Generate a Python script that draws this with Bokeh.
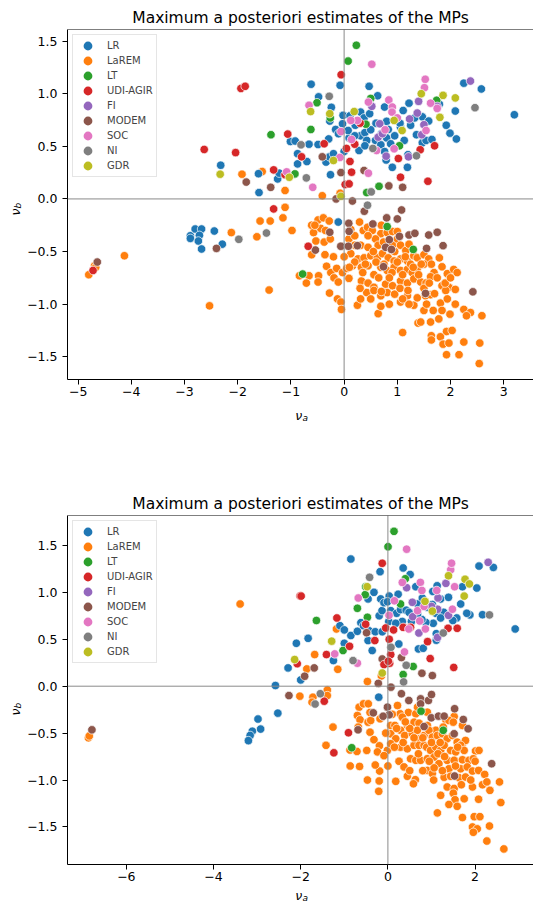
import math
from bokeh.plotting import figure
from bokeh.models import (Range1d, FixedTicker, CustomJSTickFormatter, Span,
                          Legend, LegendItem, ColumnDataSource)
from bokeh.core.properties import value
from bokeh.layouts import column, row
from bokeh.embed import file_html
from bokeh.resources import INLINE

PARTIES = ["LR", "LaREM", "LT", "UDI-AGIR", "FI", "MODEM", "SOC", "NI", "GDR"]
COLORS = ["#1f77b4", "#ff7f0e", "#2ca02c", "#d62728", "#9467bd",
          "#8c564b", "#e377c2", "#7f7f7f", "#bcbd22"]
DRAW_ORDER = ["LaREM", "LR", "MODEM", "LT", "UDI-AGIR", "FI", "SOC", "NI", "GDR"]

TITLE = "Maximum a posteriori estimates of the MPs"
TOP_X_TICKS = [-5, -4, -3, -2, -1, 0, 1, 2, 3]
BOTTOM_X_TICKS = [-6, -4, -2, 0, 2]
Y_TICKS = [-1.5, -1.0, -0.5, 0.0, 0.5, 1.0, 1.5]

# ---------------- top panel ----------------
TOP_LR = [(-2.32,0.32),(-1.60,0.06),(-1.61,0.24),(-1.25,0.19),(-1.22,0.245),(-1.01,0.546),(-0.92,0.55),
    (-0.66,0.52),(-0.49,0.517),(-0.875,0.43),(-0.875,0.333),(-0.70,0.355),(-0.34,0.35),(-0.275,0.40),
    (-0.20,0.43),(-0.256,0.23),(0.0,0.45),(-0.62,1.09),(-0.075,1.08),(-0.48,0.97),(-0.24,0.87),(-0.27,0.74),
    (-0.16,0.66),(-0.106,0.62),(-0.03,0.714),(-0.02,0.794),(-0.29,0.57),(0.11,0.79),(0.21,0.70),(0.31,0.825),
    (0.375,0.77),(0.47,1.07),(0.63,0.98),(0.48,0.81),(0.31,0.60),(0.39,0.63),(0.425,0.556),(0.5,0.657),
    (0.094,0.58),(0.075,0.65),(0.28,0.46),(0.39,0.505),(0.59,0.556),(0.69,0.514),(0.76,0.873),(0.8,0.737),
    (0.83,0.66),(0.8,0.58),(0.875,0.524),(0.76,0.45),(0.79,0.37),(0.906,0.30),(1.06,0.68),(1.13,0.556),
    (1.11,0.84),(1.22,0.91),(1.05,0.72),(1.2,0.42),(1.19,0.30),(1.36,0.61),(1.47,0.78),(1.325,0.77),
    (1.59,0.74),(1.47,0.533),(1.54,0.556),(1.65,0.565),(1.79,0.9),(1.92,0.70),(1.99,0.625),(2.11,0.57),
    (2.09,0.835),(2.25,1.10),(2.58,1.045),(3.2,0.80),(0.6,0.72),(0.95,0.6),(1.25,0.7),(0.2,0.6),(0.7,0.62),
    (-2.89,-0.35),(-2.80,-0.286),(-2.68,-0.286),(-2.89,-0.375),(-2.72,-0.346),(-2.74,-0.40),(-2.68,-0.476),
    (-2.44,-0.305),(-2.29,-0.43),(-0.11,-0.22)]
TOP_LAREM = [(-4.80,-0.72),(-4.69,-0.635),(-4.67,-0.65),(-4.13,-0.54),(-2.53,-1.016),(-2.12,-0.32),(-1.64,-0.36),
    (-1.58,-0.21),(-1.41,-0.866),(-1.92,0.235),(-1.54,0.26),(-1.11,0.08),(-0.41,0.03),(-0.075,0.054),
    (-1.11,-0.08),(-1.15,-0.18),(-1.39,-0.21),(-0.49,-0.20),(-0.39,-0.18),(-0.28,-0.21),(0.29,-0.22),(-0.61,-0.25),
    (-0.98,-0.30),(-0.575,-0.32),(-0.44,-0.28),(0.125,-0.29),(0.36,-0.30),(0.44,-0.27),(0.53,-0.30),(0.69,-0.33),
    (0.81,-0.32),(0.91,-0.31),(1.0,-0.31),
    (-0.53,-0.40),(-0.375,-0.41),(-0.26,-0.38),(0.09,-0.38),(0.2,-0.44),(0.31,-0.44),(0.45,-0.46),(0.59,-0.38),
    (0.64,-0.44),(0.74,-0.41),(0.91,-0.44),(1.0,-0.38),(1.06,-0.44),(1.16,-0.49),(1.22,-0.43),
    (-0.61,-0.53),(-0.36,-0.53),(0.125,-0.52),(0.26,-0.57),(0.375,-0.56),(0.5,-0.54),(0.625,-0.56),(0.72,-0.52),
    (0.83,-0.56),(0.94,-0.59),(1.06,-0.57),(1.19,-0.59),(1.31,-0.54),(1.375,-0.56),(1.5,-0.53),(1.59,-0.57),(1.79,-0.56),
    (-0.33,-0.64),(-0.25,-0.70),(-0.14,-0.66),(-0.03,-0.70),(0.05,-0.66),(0.16,-0.635),(0.325,-0.65),(0.45,-0.635),
    (0.56,-0.72),(0.69,-0.65),(0.81,-0.68),(0.94,-0.65),(1.06,-0.68),(1.19,-0.67),(1.28,-0.70),(1.375,-0.66),
    (1.5,-0.62),(1.64,-0.62),(1.69,-0.70),(1.84,-0.645),(1.94,-0.71),(2.06,-0.67),(2.125,-0.70),
    (-0.84,-0.73),(-0.66,-0.73),(-0.48,-0.73),(-0.71,-0.80),(-0.49,-0.79),(-0.19,-0.75),(-0.11,-0.79),(0.09,-0.755),
    (0.325,-0.78),(0.45,-0.80),(0.56,-0.84),(0.78,-0.81),(0.91,-0.825),(1.06,-0.78),(1.19,-0.80),(1.31,-0.76),
    (1.44,-0.79),(1.54,-0.80),(1.625,-0.74),(1.84,-0.825),(1.97,-0.84),(2.09,-0.86),(1.91,-0.87),
    (-0.275,-0.895),(-0.125,-0.95),(-0.06,-0.98),(0.25,-1.01),(0.31,-0.95),(0.425,-0.89),(0.56,-0.87),(0.69,-0.92),
    (0.81,-0.89),(0.95,-0.905),(1.06,-0.98),(1.19,-0.92),(1.31,-1.01),(1.375,-0.94),(1.53,-0.92),(1.625,-0.91),
    (1.81,-0.99),(1.94,-0.95),(2.09,-1.0),(2.25,-1.05),
    (-0.05,-1.05),(0.64,-1.09),(0.69,-1.02),(1.22,-1.0),(1.5,-1.06),(1.675,-1.06),(1.84,-1.06),(1.99,-1.095),
    (2.375,-1.08),(2.3,-1.11),(2.59,-1.11),
    (1.1,-1.27),(1.39,-1.18),(1.44,-1.17),(1.625,-1.17),(1.78,-1.14),(1.925,-1.26),(2.03,-1.25),
    (1.64,-1.30),(1.64,-1.34),(1.81,-1.31),(1.86,-1.38),(1.97,-1.37),(2.25,-1.36),(2.55,-1.37),(1.925,-1.48),
    (2.16,-1.48),(2.54,-1.565),
    (0.2,-0.6),(0.4,-0.62),(0.6,-0.6),(0.75,-0.62),(0.9,-0.7),(1.0,-0.6),(1.1,-0.72),(1.25,-0.62),(1.4,-0.72),
    (1.5,-0.85),(0.65,-0.75),(0.85,-0.75),(1.05,-0.85),(1.2,-0.87),(0.35,-0.7),(0.55,-0.5),(0.95,-0.5),(1.15,-0.55),
    (0.7,-0.88),(1.3,-0.65),(1.6,-0.8),(1.7,-0.9),(0.3,-0.85),(0.1,-0.65),(0.0,-0.55),(-0.05,-0.45),(-0.2,-0.55),
    (-0.35,-0.3),(-0.55,-0.25),(0.45,-0.35),(0.7,-0.25),(0.2,-0.35),(1.45,-0.62),(1.75,-0.75),(1.9,-0.8),(2.0,-0.75),
    (1.55,-1.0),(1.1,-0.95),(0.85,-1.0),(0.5,-0.95)]
TOP_LT = [(-1.375,0.61),(-0.925,0.238),(-0.51,0.914),(-0.625,0.66),(-0.26,0.77),(0.075,1.31),(0.23,1.46),
    (0.41,0.71),(0.5,0.955),(1.04,0.505),(1.74,0.937),(0.425,0.06),(0.656,0.12),(-0.78,-0.714),(0.81,-0.263),(1.3,-0.48)]
TOP_UDI = [(-2.63,0.47),(-2.04,0.44),(-1.94,1.05),(-1.86,1.07),(-1.325,0.276),(-1.11,0.23),(-1.06,0.616),
    (-0.80,0.40),(-0.375,0.524),(-0.056,1.18),(0.044,0.48),(0.2,0.52),(0.3,0.72),(1.02,0.384),(1.43,0.467),
    (1.7,0.505),(1.575,0.168),(1.06,0.206),(0.11,0.356),(0.14,0.254),(0.02,0.137),(0.094,0.143),(-4.72,-0.68),
    (-1.325,-0.095),(-0.675,-0.45)]
TOP_FI = [(0.52,0.88),(0.67,0.714),(0.64,0.587),(0.79,0.406),(1.23,0.76),(1.21,0.40),(1.46,0.61),(1.5,0.705),
    (1.375,0.816),(1.4,0.927),(1.75,0.88),(2.375,1.12),(0.72,0.62)]
TOP_MODEM = [(-1.84,0.16),(-1.38,0.11),(-0.41,0.40),(-0.06,0.25),(0.375,0.27),(0.84,0.124),(1.1,0.11),
    (-0.15,0.0),(0.156,-0.02),(-4.64,-0.60),(-2.40,-0.47),(-0.27,-0.317),(-0.54,-0.486),(0.0875,-0.232),
    (0.094,-0.308),(-0.0625,-0.45),(0.08,-0.45),(0.54,-0.238),(0.38,-0.117),(0.8,-0.18),(1.0,-0.19),(1.08,-0.105),
    (0.85,-0.387),(0.78,-0.46),(0.89,-0.48),(1.04,-0.356),(1.22,-0.343),(1.33,-0.327),(1.59,-0.343),(1.75,-0.317),
    (1.86,-0.444),(1.55,-0.47),(2.42,-0.883),(1.53,-0.898),(0.74,-0.644),(0.25,-0.444)]
TOP_SOC = [(-1.08,0.257),(-0.59,0.11),(-0.66,0.89),(-0.08,0.394),(-0.06,0.64),(0.52,1.28),(0.456,0.92),
    (0.25,0.746),(0.14,0.565),(0.61,0.46),(0.84,0.94),(0.906,0.873),(0.9,0.825),(0.77,0.657),(0.94,0.476),
    (1.54,0.65),(1.625,0.91),(1.525,1.137),(1.51,1.057),(0.456,0.244),(0.125,0.746),(1.0,0.77),(1.75,0.86)]
TOP_NI = [(-0.71,0.20),(-0.81,0.514),(-0.28,0.975),(0.54,0.48),(1.36,0.41),(2.46,0.867),(0.51,0.067),
    (0.44,-0.06),(-1.98,-0.384),(-1.46,-0.324)]
TOP_GDR = [(-2.33,0.235),(-1.03,0.206),(-0.63,0.83),(-0.2,0.365),(-0.27,0.81),(0.19,0.83),(0.94,0.746),
    (1.09,0.65),(1.45,1.0),(1.86,0.984),(1.8,0.775),(2.09,0.96),(-0.06,0.025)]

# ---------------- bottom panel ----------------
BOT_LR = [(-2.58,0.007),(-2.29,0.195),(-2.10,0.457),(-1.83,0.51),(-2.0,0.067),(-1.25,0.273),(-1.1,0.645),
    (-1.0,0.60),(-0.85,0.54),(-1.0,0.457),(-0.70,0.585),(-0.62,0.677),(-0.85,1.355),(-0.455,0.93),(-0.32,1.0),
    (-0.56,0.645),(-0.43,0.59),(-0.29,0.58),(-0.455,0.486),(-0.36,0.38),(-0.13,0.58),(-0.20,0.75),(-0.135,0.805),
    (-0.165,0.93),(-0.09,0.89),(0.03,0.96),(-0.01,0.90),(0.02,0.69),(0.25,0.45),(0.70,0.397),(0.81,0.404),
    (1.11,0.49),(1.11,0.56),(1.04,0.67),(0.35,1.26),(0.51,1.19),(-0.18,1.22),(0.64,1.06),(0.235,0.98),(0.065,0.805),
    (0.2,0.777),(0.29,0.816),(0.42,0.81),(0.68,0.876),(0.79,0.94),(0.91,0.84),(0.97,0.858),(1.03,1.01),(1.13,1.07),
    (1.21,0.93),(1.39,0.947),(1.71,1.06),(1.67,0.876),(2.04,1.046),(2.09,1.28),(2.42,1.266),(2.17,0.762),(2.92,0.61),
    (1.88,0.76),(1.81,0.777),(1.58,0.727),(1.28,0.787),(1.49,0.70),(1.02,0.87),(0.87,0.68),(0.78,0.71),(0.68,0.77),
    (0.54,0.69),(0.33,0.69),(0.18,0.67),(1.10,0.777),(1.21,0.727),(0.485,0.787),
    (-0.21,-0.117),(-2.525,-0.287),(-2.98,-0.35),(-2.92,-0.457),(-3.11,-0.48),(-3.16,-0.525),(-3.20,-0.58)]
BOT_LAREM = [(-6.87,-0.55),(-6.85,-0.53),(-3.39,0.876),(-1.86,0.184),(-1.68,0.337),(-1.15,0.18),(-1.18,0.61),
    (-0.15,0.11),(-0.47,0.05),(-1.39,-0.04),(-2.02,-0.106),(-1.72,-0.117),(-1.74,-0.17),(-1.39,-0.10),(-1.26,-0.436),
    (-1.42,-0.63),(-0.87,-0.68),(-0.71,-0.695),(-0.485,-0.684),(-0.865,-0.85),(-0.65,-0.855),(-0.47,-1.0),(-0.2,-1.01),
    (-0.19,-0.904),(-0.29,-0.84),(-0.21,-1.12),
    (-0.66,-0.223),(-0.56,-0.188),(-0.45,-0.188),(-0.41,-0.28),(0.22,-0.206),(0.47,-0.28),(0.64,-0.294),(0.68,-0.223),
    (0.905,-0.277),(1.52,-0.323),(1.33,-0.358),
    (-0.70,-0.312),(-0.64,-0.358),(-0.455,-0.383),(-0.395,-0.365),(-0.68,-0.436),(-0.18,-0.348),(0.064,-0.418),
    (0.16,-0.418),(0.28,-0.294),(0.33,-0.33),(0.446,-0.418),(0.6,-0.383),(0.714,-0.394),(0.905,-0.418),(1.10,-0.47),
    (1.27,-0.436),(1.40,-0.365),(1.50,-0.383),(1.71,-0.418),
    (-0.41,-0.49),(-0.32,-0.57),(0.064,-0.507),(0.18,-0.56),(0.29,-0.47),(0.385,-0.525),(0.56,-0.507),(0.676,-0.47),
    (0.714,-0.56),(0.83,-0.525),(0.94,-0.47),(1.02,-0.543),(1.135,-0.525),(1.25,-0.507),(1.36,-0.56),(1.48,-0.525),
    (1.59,-0.596),(1.71,-0.613),(1.78,-0.578),
    (-0.195,-0.635),(-0.24,-0.70),(-0.012,-0.684),(-0.09,-0.74),(0.064,-0.613),(0.29,-0.65),(0.446,-0.667),(0.60,-0.63),
    (0.714,-0.63),(0.83,-0.63),(0.89,-0.65),(0.98,-0.684),(1.10,-0.65),(1.21,-0.684),(1.29,-0.63),(1.44,-0.684),
    (1.555,-0.70),(1.67,-0.63),(1.75,-0.684),(2.01,-0.69),(2.09,-0.684),
    (0.255,-0.80),(0.37,-0.86),(0.52,-0.773),(0.64,-0.79),(0.75,-0.79),(0.905,-0.773),(1.06,-0.755),(1.17,-0.826),
    (1.36,-0.79),(1.52,-0.79),(1.71,-0.784),(1.86,-0.79),(1.96,-0.773),(1.40,-0.88),(1.67,-0.88),(1.82,-0.86),
    (0.446,-0.96),(0.63,-0.996),(0.905,-0.897),(1.02,-0.93),(1.06,-0.87),(1.29,-0.97),(1.44,-0.96),(1.63,-0.975),
    (1.78,-0.968),(1.94,-0.904),(2.08,-0.897),(2.22,-0.94),(0.585,-1.04),
    (0.18,-1.014),(1.36,-1.074),(1.52,-1.09),(1.685,-1.05),(1.94,-1.074),(2.17,-1.05),(2.27,-1.02),(2.34,-1.11),
    (2.56,-1.02),(1.50,-1.14),
    (1.21,-1.163),(1.54,-1.21),(1.75,-1.20),(2.08,-1.205),(2.59,-1.24),(1.40,-1.26),(1.59,-1.28),(1.135,-1.35),
    (1.71,-1.40),(1.98,-1.39),(2.11,-1.39),
    (1.94,-1.50),(2.05,-1.52),(1.96,-1.557),(2.33,-1.49),(2.27,-1.65),(2.66,-1.734),
    (0.2,-0.45),(0.5,-0.45),(0.8,-0.55),(1.0,-0.6),(1.2,-0.6),(0.6,-0.55),(0.35,-0.6),(0.15,-0.65),(0.7,-0.72),
    (0.95,-0.8),(1.15,-0.72),(1.3,-0.75),(1.55,-0.85),(1.25,-0.9),(0.8,-0.9),(0.1,-0.3),(0.4,-0.38),(-0.05,-0.5),
    (0.0,-0.85),(1.9,-1.0),(2.0,-0.8),(1.05,-1.0),(1.6,-0.65),(0.5,-0.9)]
BOT_LT = [(-1.64,0.70),(-1.03,0.38),(-0.70,0.83),(-0.51,1.06),(-0.52,0.975),(-0.47,0.734),(0.003,1.486),
    (0.14,1.65),(0.40,1.145),(0.29,0.876),(0.58,0.21),(0.35,0.124),(-0.83,-0.656),(0.76,-0.266),(1.27,-0.47)]
BOT_UDI = [(-2.015,0.96),(-1.99,0.96),(-2.08,0.24),(-1.41,0.337),(-1.17,0.727),(-0.88,0.425),(-0.51,0.66),
    (-0.30,0.486),(-0.13,1.31),(-0.05,0.62),(0.13,0.60),(0.03,0.5),(0.065,0.337),(0.04,0.245),(-0.09,0.23),
    (0.01,0.266),(0.97,0.294),(1.51,0.20),(0.91,0.475),(1.38,0.617),(1.59,0.617),(0.52,0.627),(0.35,0.627),
    (-1.46,-0.16),(-0.905,-0.496),(-1.24,-0.71)]
BOT_FI = [(0.71,0.567),(0.43,1.05),(0.56,0.894),(1.15,0.94),(1.33,1.096),(2.30,1.32),(1.39,0.755),(0.57,0.74),
    (1.14,0.82),(1.14,0.52),(1.0,0.85)]
BOT_MODEM = [(-1.91,0.106),(-1.69,0.195),(-0.49,0.57),(-0.13,0.29),(-0.22,0.03),(0.07,-0.01),(0.31,0.305),
    (0.78,0.138),(1.02,0.113),(-6.79,-0.465),(-2.27,-0.10),(-0.335,-0.284),(-0.685,-0.465),(-0.01,-0.223),
    (0.03,-0.305),(-0.11,-0.32),(0.31,-0.08),(0.48,-0.152),(0.75,-0.135),(0.75,-0.188),(0.93,-0.152),(1.0,-0.089),
    (0.995,-0.337),(1.16,-0.319),(1.29,-0.319),(0.83,-0.43),(1.53,-0.24),(1.73,-0.355),(1.52,-0.507),(1.84,-0.454),
    (2.38,-0.826),(1.53,-0.957)]
BOT_SOC = [(-1.22,0.344),(-0.70,0.245),(-0.68,0.94),(0.026,0.755),(0.38,0.365),(0.43,1.46),(0.33,1.106),
    (0.745,1.106),(0.78,1.02),(0.15,0.91),(1.44,1.24),(1.46,1.31),(1.53,1.06),(1.48,0.82),(0.68,0.805),(0.83,0.85),
    (0.86,0.61),(0.48,0.61),(1.12,1.02),(0.73,0.695)]
BOT_NI = [(-0.80,0.273),(-0.42,1.16),(0.07,0.415),(0.42,0.223),(0.36,0.046),(1.27,0.567),(2.33,0.76),
    (-1.55,-0.08),(-1.67,-0.19)]
BOT_GDR = [(-2.14,0.284),(-1.29,0.48),(-0.13,0.14),(0.85,0.904),(1.39,1.177),(1.77,1.14),(1.87,1.09),
    (1.75,0.96),(-0.475,1.06),(1.02,0.80)]

TOP_DATA = {"LR": TOP_LR, "LaREM": TOP_LAREM, "LT": TOP_LT, "UDI-AGIR": TOP_UDI, "FI": TOP_FI,
            "MODEM": TOP_MODEM, "SOC": TOP_SOC, "NI": TOP_NI, "GDR": TOP_GDR}
BOT_DATA = {"LR": BOT_LR, "LaREM": BOT_LAREM, "LT": BOT_LT, "UDI-AGIR": BOT_UDI, "FI": BOT_FI,
            "MODEM": BOT_MODEM, "SOC": BOT_SOC, "NI": BOT_NI, "GDR": BOT_GDR}

FONT = "DejaVu Sans"
MINUS = "\u2212"
YSTRIP_W = 24


def make_panel(data, xr, yr, xticks, height, b_top, b_bottom):
    p = figure(width=533 - YSTRIP_W, height=height, x_range=Range1d(*xr), y_range=Range1d(*yr),
               output_backend="svg", toolbar_location=None, title=TITLE,
               min_border_left=67 - YSTRIP_W, min_border_right=0, min_border_top=b_top,
               min_border_bottom=b_bottom)
    p.title.text_font = FONT
    p.title.text_font_size = "15.5px"
    p.title.text_font_style = "normal"
    p.title.align = "center"
    p.title.standoff = 5
    p.title.text_color = "black"
    p.grid.visible = False
    p.outline_line_color = None
    p.background_fill_color = "white"

    for ax in (p.xaxis[0], p.yaxis[0]):
        ax.axis_line_color = "black"
        ax.axis_line_width = 1
        ax.major_tick_line_color = "black"
        ax.major_tick_out = 5
        ax.major_tick_in = 0
        ax.minor_tick_out = 0
        ax.minor_tick_in = 0
        ax.major_label_text_font = FONT
        ax.major_label_text_font_size = "12.5px"
        ax.major_label_text_color = "black"
    p.xaxis.ticker = FixedTicker(ticks=xticks)
    p.yaxis.ticker = FixedTicker(ticks=Y_TICKS)
    p.xaxis.major_label_standoff = 2
    p.yaxis.major_label_standoff = 5
    p.xaxis.formatter = CustomJSTickFormatter(
        code="return (tick < 0 ? '" + MINUS + "' : '') + Math.abs(tick).toFixed(0);")
    p.yaxis.formatter = CustomJSTickFormatter(
        code="return (tick < 0 ? '" + MINUS + "' : '') + Math.abs(tick).toFixed(1);")

    # legend swatch renderers: one real point per party, drawn first (hidden under the
    # full-size markers) with a thick outline so the legend swatch reads ~9 px wide
    items = []
    for name, col in zip(PARTIES, COLORS):
        x0, y0 = data[name][0]
        r = p.scatter(x=[x0], y=[y0], marker="circle", size=0.5, fill_color=col,
                      line_color=col, line_width=2.8)
        items.append(LegendItem(label=name, renderers=[r]))

    for name in DRAW_ORDER:
        pts = data[name]
        src = ColumnDataSource(dict(x=[a for a, b in pts], y=[b for a, b in pts]))
        col = COLORS[PARTIES.index(name)]
        p.scatter("x", "y", source=src, size=8.5, marker="circle",
                  fill_color=col, line_color="white", line_width=0.7)

    p.add_layout(Span(location=0, dimension="height", line_color="#8a8a8a", line_width=1))
    p.add_layout(Span(location=0, dimension="width", line_color="#8a8a8a", line_width=1))
    p.add_layout(Span(location=yr[1], dimension="width", line_color="black", line_width=1))

    legend = Legend(items=items, location="top_left")
    legend.label_text_font = FONT
    legend.label_text_font_size = "10px"
    legend.glyph_width = 23
    legend.glyph_height = 15
    legend.label_height = 15
    legend.label_standoff = 8
    legend.padding = 3
    legend.spacing = 0
    legend.margin = 5
    legend.border_line_color = "#cccccc"
    legend.border_line_width = 1
    legend.background_fill_alpha = 0.8
    p.add_layout(legend)
    return p


def strip(w, h):
    f = figure(width=w, height=h, x_range=Range1d(0, w), y_range=Range1d(0, h),
               output_backend="svg", toolbar_location=None,
               min_border_left=0, min_border_right=0, min_border_top=0, min_border_bottom=0)
    f.axis.visible = False
    f.grid.visible = False
    f.outline_line_color = None
    return f


TXT = dict(text_font=value(FONT), text_font_style=value("italic"), text_color="black",
           text_baseline=value("alphabetic"))


def xlabel_strip(h, base_from_top):
    f = strip(533, h)
    cx = 301.7
    f.text(x=[cx], y=[h - base_from_top], text=["\u03bd"], text_font_size=value("12.5px"),
           text_align=value("right"), **TXT)
    f.text(x=[cx + 0.3], y=[h - base_from_top - 2.3], text=["a"], text_font_size=value("9px"),
           text_align=value("left"), **TXT)
    return f


def ylabel_strip(h, anchor_from_top):
    f = strip(YSTRIP_W, h)
    yy = h - anchor_from_top
    f.text(x=[15], y=[yy], text=["\u03bd"], text_font_size=value("12.5px"),
           text_align=value("right"), angle=math.pi / 2, **TXT)
    f.text(x=[17.3], y=[yy], text=["b"], text_font_size=value("9px"),
           text_align=value("left"), angle=math.pi / 2, **TXT)
    return f


# top block: panel 0..403, x label strip 403..450
p1 = make_panel(TOP_DATA, (-5.2, 3.56), (-1.716, 1.61), TOP_X_TICKS, 403, 29, 24)
# bottom block: panel 450..886, x label strip 886..903
p2 = make_panel(BOT_DATA, (-7.35, 3.34), (-1.90, 1.819), BOTTOM_X_TICKS, 436, 65, 22)

layout = column(
    row(ylabel_strip(403, 206), p1, spacing=0),
    xlabel_strip(47, 12),
    row(ylabel_strip(436, 241), p2, spacing=0),
    xlabel_strip(17, 9),
    spacing=0,
)
open("out.html", "w", encoding="utf-8").write(file_html(layout, INLINE, title="MAP estimates"))
